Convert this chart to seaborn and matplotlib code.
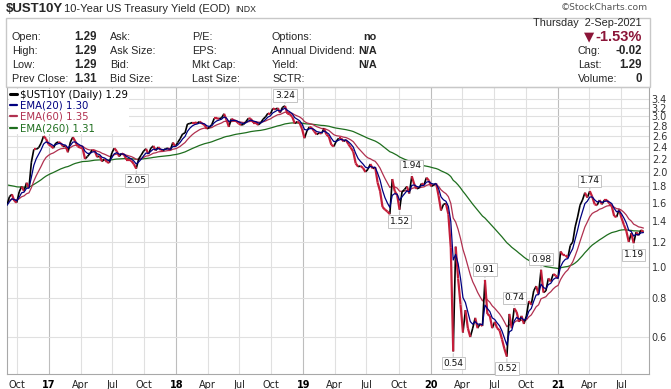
# $UST10Y 5-year daily chart (StockCharts style) rebuilt with seaborn/matplotlib
import numpy as np
import pandas as pd
import matplotlib
matplotlib.use("Agg")
import matplotlib.pyplot as plt
import matplotlib.dates as mdates
import seaborn as sns
from matplotlib.collections import LineCollection
from matplotlib.lines import Line2D
from matplotlib.patches import Rectangle
from matplotlib.ticker import FixedLocator, NullLocator, FormatStrFormatter

W, H = 671, 389

# ── Data: weekly (Friday) closes ──────────────────────────────────────────────
FIRST_FRIDAY = "2016-09-02"
YIELD_2016 = [
    1.57, 1.67, 1.70, 1.62, 1.60,   # Sep
    1.73, 1.80, 1.74, 1.85,         # Oct
    1.78, 2.15, 2.36, 2.36,         # Nov
    2.39, 2.47, 2.60, 2.55, 2.45,   # Dec
]
YIELD_2017 = [
    2.42, 2.38, 2.47, 2.49,         # Jan
    2.47, 2.41, 2.42, 2.31,         # Feb
    2.49, 2.58, 2.50, 2.41, 2.39,   # Mar
    2.38, 2.20, 2.24, 2.29,         # Apr
    2.35, 2.33, 2.23, 2.25,         # May
    2.16, 2.20, 2.15, 2.14, 2.30,   # Jun
    2.38, 2.33, 2.24, 2.29,         # Jul
    2.27, 2.19, 2.19, 2.17,         # Aug
    2.12, 2.05, 2.20, 2.26, 2.33,   # Sep
    2.37, 2.28, 2.38, 2.42,         # Oct
    2.34, 2.40, 2.35, 2.34,         # Nov
    2.37, 2.38, 2.35, 2.48, 2.41,   # Dec
]
YIELD_2018 = [
    2.48, 2.55, 2.64, 2.66,         # Jan
    2.84, 2.85, 2.87, 2.87,         # Feb
    2.86, 2.89, 2.85, 2.82, 2.74,   # Mar
    2.77, 2.83, 2.96, 2.96,         # Apr
    2.95, 2.97, 3.06, 2.93,         # May
    2.78, 2.95, 2.92, 2.90, 2.85,   # Jun
    2.82, 2.83, 2.89, 2.96,         # Jul
    2.95, 2.87, 2.87, 2.82, 2.86,   # Aug
    2.94, 2.99, 3.07, 3.05,         # Sep
    3.18, 3.16, 3.19, 3.08,         # Oct
    3.21, 3.24, 3.06, 3.05, 2.99,   # Nov
    2.85, 2.89, 2.86, 2.74,         # Dec
]
YIELD_2019 = [
    2.56, 2.70, 2.78, 2.76,         # Jan
    2.69, 2.63, 2.66, 2.65,         # Feb
    2.75, 2.63, 2.59, 2.44, 2.41,   # Mar
    2.50, 2.56, 2.56, 2.50,         # Apr
    2.53, 2.45, 2.39, 2.32, 2.13,   # May
    2.08, 2.09, 2.06, 2.00,         # Jun
    2.04, 2.12, 2.05, 2.07,         # Jul
    1.85, 1.74, 1.55, 1.52, 1.50,   # Aug
    1.47, 1.90, 1.74, 1.69,         # Sep
    1.52, 1.73, 1.76, 1.80,         # Oct
    1.71, 1.94, 1.83, 1.77, 1.78,   # Nov
    1.84, 1.82, 1.92, 1.88,         # Dec
]
YIELD_2020 = [
    1.80, 1.82, 1.84, 1.68, 1.51,   # Jan
    1.58, 1.59, 1.47, 1.15,         # Feb
    0.54, 1.16, 0.92, 0.76,         # Mar
    0.62, 0.73, 0.64, 0.60,         # Apr
    0.64, 0.69, 0.64, 0.66, 0.65,   # May
    0.91, 0.71, 0.70, 0.64,         # Jun
    0.67, 0.64, 0.63, 0.59, 0.55,   # Jul
    0.52, 0.71, 0.64, 0.74,         # Aug
    0.72, 0.67, 0.70, 0.66,         # Sep
    0.70, 0.78, 0.76, 0.84, 0.87,   # Oct
    0.82, 0.98, 0.83, 0.84,         # Nov
    0.92, 0.90, 0.95, 0.94,         # Dec
]
YIELD_2021 = [
    0.92, 1.12, 1.09, 1.09, 1.07,   # Jan
    1.17, 1.20, 1.34, 1.44,         # Feb
    1.57, 1.63, 1.72, 1.66,         # Mar
    1.74, 1.67, 1.58, 1.57, 1.63,   # Apr
    1.58, 1.63, 1.63, 1.59,         # May
    1.56, 1.45, 1.44, 1.52,         # Jun
    1.43, 1.36, 1.30, 1.20, 1.28,   # Jul
    1.19, 1.29, 1.26, 1.31,         # Aug
    1.29,                           # Sep
]

# EMA settings (daily spans) and their level at the left edge of the chart
EMA_SPANS = [20, 60, 260]
EMA_SEEDS = [1.57, 1.63, 1.83]
LEGEND_NAMES = ["$UST10Y (Daily)", "EMA(20)", "EMA(60)", "EMA(260)"]
LEGEND_VALUES = ["1.29", "1.30", "1.35", "1.31"]

# labelled highs / lows
LABEL_DATES = ["2017-09-08", "2018-11-09", "2019-10-04", "2019-11-08", "2020-03-06",
               "2020-06-05", "2020-08-07", "2020-08-28", "2020-11-13", "2021-04-02",
               "2021-08-06"]
LABEL_ABOVE = [False, True, False, True, False, True, False, True, True, True, False]

Y_TICKS = [0.6, 0.8, 1.0, 1.2, 1.4, 1.6, 1.8, 2.0, 2.2, 2.4, 2.6, 2.8, 3.0, 3.2, 3.4]

# quote box
ROW_LABELS_1 = ["Open:", "High:", "Low:", "Prev Close:"]
ROW_VALUES_1 = ["1.29", "1.29", "1.29", "1.31"]
ROW_LABELS_2 = ["Ask:", "Ask Size:", "Bid:", "Bid Size:"]
ROW_LABELS_3 = ["P/E:", "EPS:", "Mkt Cap:", "Last Size:"]
ROW_LABELS_4 = ["Options:", "Annual Dividend:", "Yield:", "SCTR:"]
ROW_VALUES_4 = ["no", "N/A", "N/A", ""]
RIGHT_LABELS = ["Chg:", "Last:", "Volume:"]
RIGHT_VALUES = ["-0.02", "1.29", "0"]

# ── Styling ──────────────────────────────────────────────────────────────────
RED = "#C41E3A"
NAVY = "#000080"
ROSE = "#B0304F"
GREEN = "#1E6E1E"
MAROON = "#8B1538"
GRID = "#e0e0e0"
GRID_YEAR = "#bdbdbd"
EDGE = "#a8a8a8"

sns.set_style("white")
plt.rcParams.update({
    "font.family": ["DejaVu Sans"],
    "axes.edgecolor": EDGE,
    "axes.linewidth": 0.8,
})
HEAD_FONT = ["Liberation Sans", "DejaVu Sans"]


def weekly_ema(values, span_days, seed):
    # weekly samples, so a daily span of N is roughly N/5 weeks
    s = pd.Series([seed] + list(values))
    return s.ewm(span=span_days / 5.0, adjust=False).mean().iloc[1:].to_numpy()


def ftext(fig, x, y, s, **kw):
    kw.setdefault("family", HEAD_FONT)
    kw.setdefault("fontsize", 7.8)
    kw.setdefault("va", "center")
    fig.text(x / W, 1 - y / H, s, **kw)


def main():
    yields = np.array(YIELD_2016 + YIELD_2017 + YIELD_2018 + YIELD_2019 + YIELD_2020 + YIELD_2021)
    dates = pd.date_range(FIRST_FRIDAY, periods=len(yields), freq="W-FRI")
    emas = [weekly_ema(yields, sp, sd) for sp, sd in zip(EMA_SPANS, EMA_SEEDS)]

    fig = plt.figure(figsize=(W / 100, H / 100), dpi=100)
    fig.patch.set_facecolor("white")
    ax = fig.add_axes([7 / W, 1 - 374 / H, 642 / W, 287 / H])
    ax.set_yscale("log")

    # EMAs (260 underneath, 20 on top of price)
    sns.lineplot(x=dates, y=emas[2], ax=ax, color=GREEN, linewidth=0.9, zorder=2)
    sns.lineplot(x=dates, y=emas[1], ax=ax, color=ROSE, linewidth=0.9, zorder=2.5)

    # price line: black on up weeks, red on down weeks (red drawn on top)
    xs = mdates.date2num(dates)
    pts = np.column_stack([xs, yields])
    segs = np.stack([pts[:-1], pts[1:]], axis=1)
    up = np.diff(yields) > 0
    ax.add_collection(LineCollection(segs[up], colors="black", linewidths=1.2, zorder=3))
    ax.add_collection(LineCollection(segs[~up], colors=RED, linewidths=1.6, zorder=3.2))

    sns.lineplot(x=dates, y=emas[0], ax=ax, color=NAVY, linewidth=0.9, zorder=4)

    ax.set_xlim(pd.Timestamp("2016-09-02"), pd.Timestamp("2021-09-19"))
    ax.set_ylim(0.458, 3.72)
    ax.set_xlabel("")
    ax.set_ylabel("")

    # y axis on the right, log scale
    ax.yaxis.tick_right()
    ax.yaxis.set_major_locator(FixedLocator(Y_TICKS))
    ax.yaxis.set_minor_locator(NullLocator())
    ax.yaxis.set_major_formatter(FormatStrFormatter("%.1f"))
    ax.tick_params(axis="y", which="both", length=0, pad=2, labelsize=7, labelcolor="#333333")
    ax.grid(axis="y", color=GRID, linewidth=0.8)

    # quarterly x ticks, year ticks in bold
    qdates = pd.date_range("2016-10-01", "2021-07-01", freq="QS-JAN")
    ax.set_xticks(qdates)
    ax.set_xticklabels([d.strftime("%y") if d.month == 1 else d.strftime("%b") for d in qdates])
    ax.xaxis.set_minor_locator(NullLocator())
    ax.tick_params(axis="x", length=3, color="#c8c8c8", pad=1, labelsize=7, labelcolor="#222222")
    ax.grid(axis="x", linewidth=0.8)
    for lbl, tick, d in zip(ax.get_xticklabels(), ax.xaxis.get_major_ticks(), qdates):
        if d.month == 1:
            lbl.set_fontweight("bold")
            lbl.set_color("black")
            tick.gridline.set_color(GRID_YEAR)
        else:
            tick.gridline.set_color(GRID)
    ax.set_axisbelow(True)
    for sp in ax.spines.values():
        sp.set_color(EDGE)
        sp.set_linewidth(0.8)

    # high / low labels
    for d, above in zip(LABEL_DATES, LABEL_ABOVE):
        i = dates.get_indexer([pd.Timestamp(d)], method="nearest")[0]
        v = yields[i]
        ax.annotate(f"{v:.2f}", (dates[i], v), xytext=(0, 7.5 if above else -8.5),
                    textcoords="offset points", ha="center", va="center", fontsize=6.5,
                    color="#111111", zorder=6,
                    bbox=dict(boxstyle="square,pad=0.18", fc="white", ec="#c4c4c4", lw=0.7),
                    arrowprops=dict(arrowstyle="-", color="#c4c4c4", lw=0.7, shrinkA=0, shrinkB=1.5))

    # legend in the top-left corner
    handles = [Line2D([], [], color="black", lw=2.2),
               Line2D([], [], color=NAVY, lw=1.6),
               Line2D([], [], color=ROSE, lw=1.6),
               Line2D([], [], color=GREEN, lw=1.6)]
    labels = [f"{n} {v}" for n, v in zip(LEGEND_NAMES, LEGEND_VALUES)]
    leg = ax.legend(handles, labels, loc="upper left", bbox_to_anchor=(0.0, 1.0), fontsize=7.3,
                    frameon=True, facecolor="white", edgecolor="none", framealpha=1,
                    borderpad=0.1, borderaxespad=0.15, handlelength=0.7, handletextpad=0.3,
                    labelspacing=0.12, labelcolor=["black", NAVY, ROSE, GREEN])
    leg.get_frame().set_boxstyle("square", pad=0)
    leg.set_zorder(7)

    # ── header and quote box ────────────────────────────────────────────────
    ftext(fig, 6, 8.5, "$UST10Y", fontsize=9.5, fontweight="bold")
    ftext(fig, 64, 9.5, "10-Year US Treasury Yield (EOD)", fontsize=8)
    ftext(fig, 235, 10, "INDX", fontsize=6.3)
    ftext(fig, 648, 7, "©StockCharts.com", family=["DejaVu Sans"], fontsize=6.6,
          color="#555555", ha="right")
    fig.patches.append(Rectangle((6 / W, 1 - 87 / H), 644 / W, 69 / H, transform=fig.transFigure,
                                 fill=False, ec="#c8c8c8", lw=1))

    row_y = [37, 51, 65, 79]
    for k, y in enumerate(row_y):
        ftext(fig, 12, y, ROW_LABELS_1[k])
        ftext(fig, 97, y, ROW_VALUES_1[k], fontweight="bold", ha="right", fontsize=8.3)
        ftext(fig, 110, y, ROW_LABELS_2[k])
        ftext(fig, 192, y, ROW_LABELS_3[k])
        ftext(fig, 272, y, ROW_LABELS_4[k])
        ftext(fig, 377, y, ROW_VALUES_4[k], fontweight="bold", ha="right")

    ftext(fig, 642, 23, "Thursday  2-Sep-2021", ha="right")
    ftext(fig, 594, 37, "▼", family=["DejaVu Sans"], fontsize=9.5, color=MAROON, ha="right")
    ftext(fig, 642, 37, "-1.53%", fontsize=10.5, fontweight="bold", color=MAROON, ha="right")
    for k, y in enumerate(row_y[1:]):
        ftext(fig, 578, y, RIGHT_LABELS[k])
        ftext(fig, 642, y, RIGHT_VALUES[k], fontweight="bold", ha="right", fontsize=8.3)

    fig.savefig("out.png", dpi=100, facecolor="white")
    plt.close(fig)


if __name__ == "__main__":
    main()
